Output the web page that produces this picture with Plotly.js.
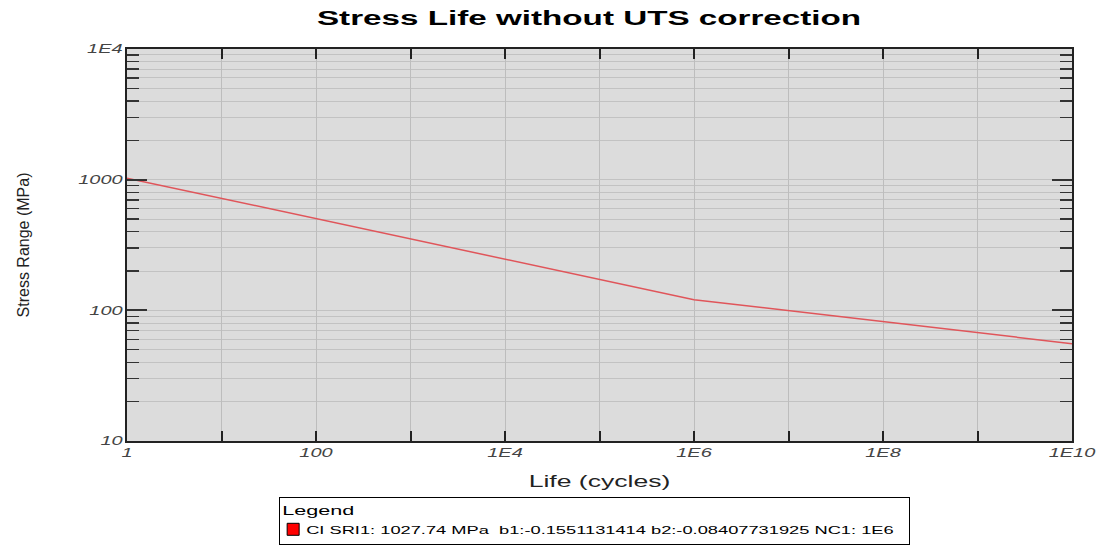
<!DOCTYPE html>
<html>
<head>
<meta charset="utf-8">
<script src="https://cdn.plot.ly/plotly-3.0.1.min.js"></script>
<style>html,body{margin:0;padding:0;background:#fff;}#chart{width:1099px;height:546px;}</style>
</head>
<body>
<div id="chart"></div>
<script>
// Data
const lifeCycles = [1, 1e6, 1e10];
const stressRange = [1027.74, 120.6, 55.6];
const seriesName = "CI SRI1: 1027.74 MPa  b1:-0.1551131414 b2:-0.08407731925 NC1: 1E6";
const xTickVals = [1,10,100,1e3,1e4,1e5,1e6,1e7,1e8,1e9,1e10];
const xTickText = ["1","","100","","1E4","","1E6","","1E8","","1E10"];
const yTickVals = [10,100,1000,10000];
const yTickText = ["10","100","1000","1E4"];

const traces = [
  {x: lifeCycles, y: stressRange, type: 'scatter', mode: 'lines',
   line: {color: '#e0555a', width: 1.5}, showlegend: false, hoverinfo: 'x+y'},
  {x: [null], y: [null], type: 'bar', name: seriesName,
   marker: {color: '#ff0000', line: {color: '#000', width: 1}}, showlegend: true}
];

const FF = 'Liberation Sans, Arial, sans-serif';
const tickFont = {family: FF, size: 12, color: '#444', style: 'italic'};

const layout = {
  width: 1099, height: 546,
  margin: {l: 127, r: 27, t: 49, b: 105},
  paper_bgcolor: '#fff', plot_bgcolor: '#dcdcdc',
  title: {text: 'Stress Life without UTS correction', x: 0.536, xanchor: 'center', y: 0.967, yanchor: 'middle',
          font: {family: FF, size: 20, color: '#000', weight: 'bold'}},
  xaxis: {type: 'log', range: [0, 10], tickmode: 'array', tickvals: xTickVals, ticktext: xTickText,
          ticks: 'inside', ticklen: 10, tickwidth: 2, tickcolor: '#222',
          showline: true, linecolor: '#222', linewidth: 2, mirror: 'allticks',
          showgrid: true, gridcolor: '#bdbdbd', gridwidth: 1, zeroline: false,
          tickfont: tickFont,
          title: {text: 'Life (cycles)', standoff: 16, font: {family: FF, size: 16, color: '#222'}}},
  yaxis: {type: 'log', range: [1, 4], tickmode: 'array', tickvals: yTickVals, ticktext: yTickText,
          ticks: 'inside', ticklen: 20, tickwidth: 2, tickcolor: '#333',
          showline: true, linecolor: '#222', linewidth: 2, mirror: 'allticks',
          showgrid: true, gridcolor: '#c2c2c2', gridwidth: 1, zeroline: false,
          tickfont: tickFont,
          minor: {dtick: 'D1', ticks: 'inside', ticklen: 12, tickwidth: 1.5, tickcolor: '#333', showgrid: true, gridcolor: '#c2c2c2', gridwidth: 1},
          title: {text: 'Stress Range (MPa)', standoff: 62, font: {family: FF, size: 16, color: '#222'}}},
  legend: {xref: 'container', yref: 'container', x: 0.254, xanchor: 'left', y: 0.002, yanchor: 'bottom', orientation: 'h',
           bordercolor: '#000', borderwidth: 1, bgcolor: '#fff',
           entrywidth: 584, entrywidthmode: 'pixels',
           title: {text: 'Legend', side: 'top', font: {family: FF, size: 13, color: '#000'}},
           font: {family: FF, size: 11, color: '#000'},
           tracegroupgap: 0}
};

function stretchTexts(gd) {
  const k = 1.66;
  const sel = ['.gtitle', '.xtick text', '.ytick text', '.g-xtitle text', '.legendtext', '.legendtitletext'];
  sel.forEach(s => {
    gd.querySelectorAll(s).forEach(t => {
      if (!t.textContent) return;
      const len = t.getComputedTextLength();
      if (len > 0) {
        t.setAttribute('textLength', (len * k).toFixed(1));
        t.setAttribute('lengthAdjust', 'spacingAndGlyphs');
      }
    });
  });
  // tighten legend entry like the reference (icon and text closer to the box edge)
  gd.querySelectorAll('.legend .traces').forEach(tr => {
    const pts = tr.querySelector('.legendpoints');
    if (pts) pts.setAttribute('transform', 'translate(-7,0)');
    const txt = tr.querySelector('.legendtext');
    if (txt) txt.setAttribute('x', '26');
  });
}

Plotly.newPlot('chart', traces, layout, {displayModeBar: false, staticPlot: true}).then(stretchTexts);
</script>
</body>
</html>
